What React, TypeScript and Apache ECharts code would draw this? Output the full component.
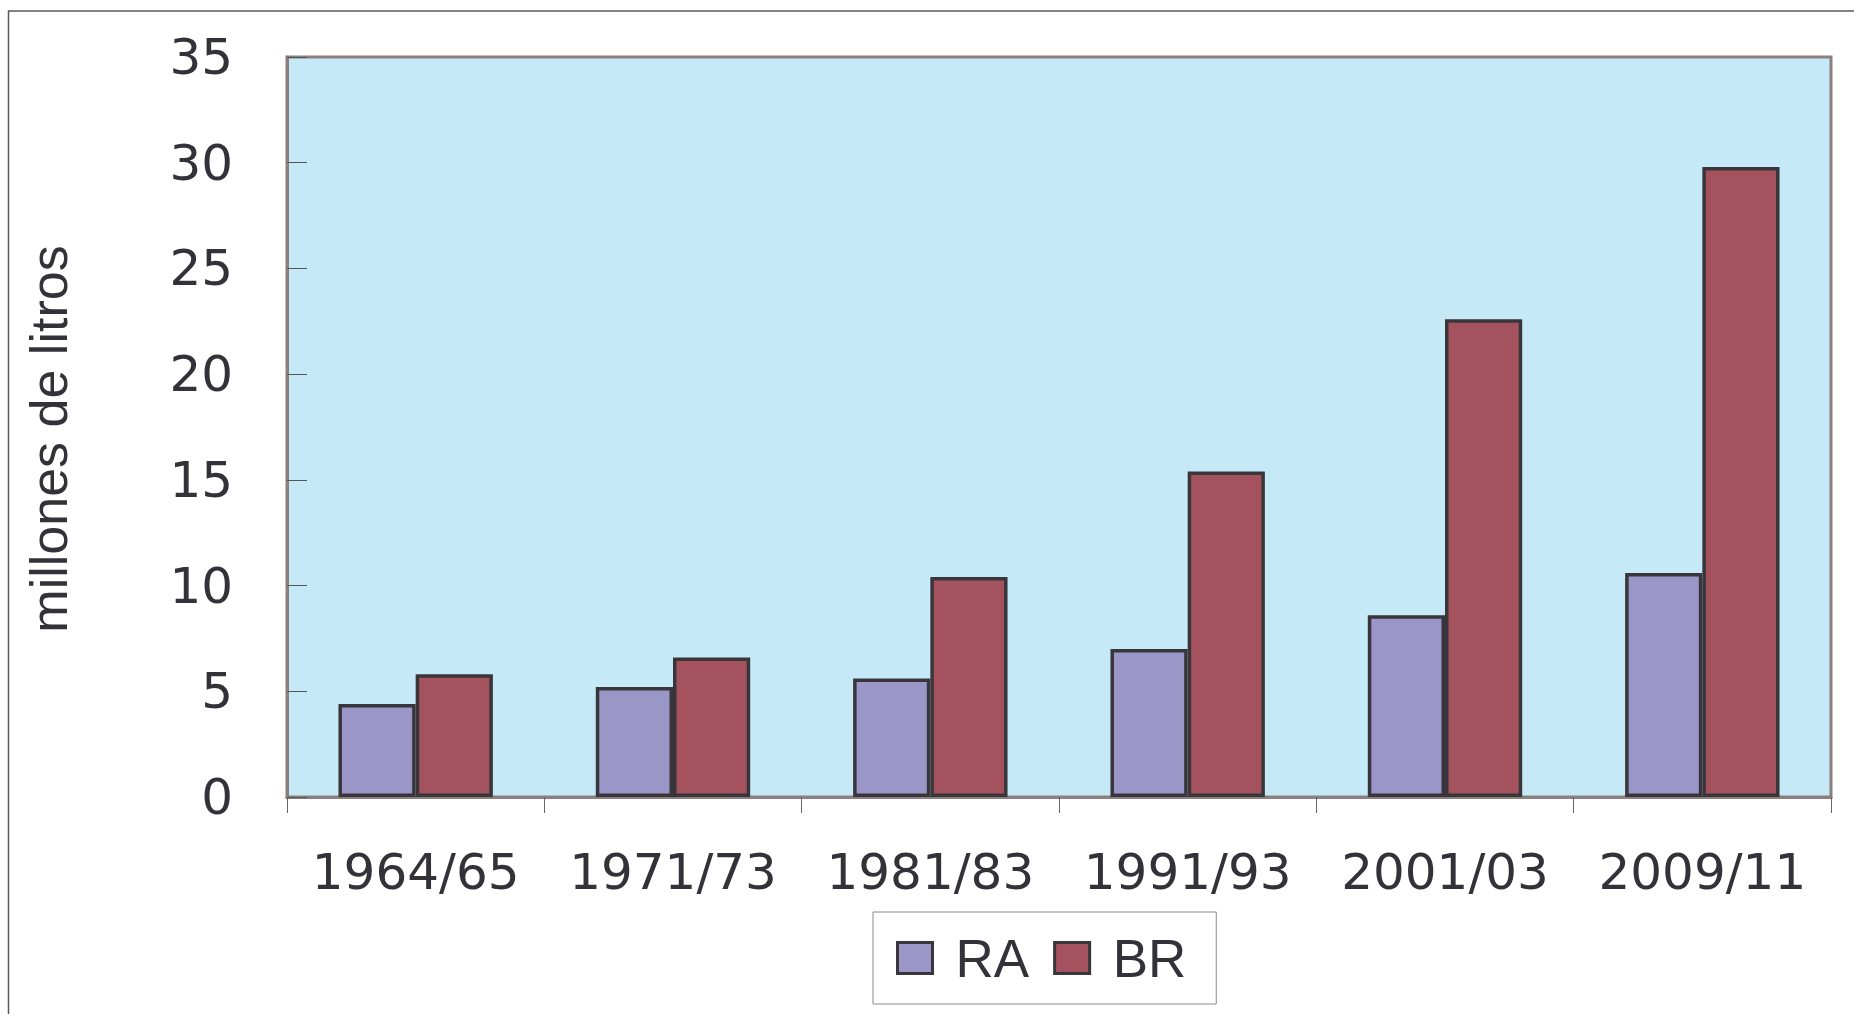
import React, { useEffect, useRef } from "react";
import * as echarts from "echarts";

const categories = ["1964/65", "1971/73", "1981/83", "1991/93", "2001/03", "2009/11"];
const raValues = [4.4, 5.2, 5.6, 7.0, 8.6, 10.6];
const brValues = [5.8, 6.6, 10.4, 15.4, 22.6, 29.8];
const seriesNames = ["RA", "BR"];
const yAxisTitle = "millones de litros";

const FONT = "'Liberation Sans', Arial, Helvetica, sans-serif";
const NUMFONT = "'DejaVu Sans', 'Liberation Sans', Arial, sans-serif";
const TEXT = "#333238";

export default function App() {
  const ref = useRef<HTMLDivElement>(null);
  useEffect(() => {
    if (!ref.current) return;
    const chart = echarts.init(ref.current, null, { renderer: "svg" });
    chart.setOption({
      animation: false,
      backgroundColor: "#ffffff",
      textStyle: { fontFamily: FONT, color: TEXT },
      graphic: [
        {
          type: "rect",
          shape: { x: 8.5, y: 11, width: 2400, height: 2400 },
          style: { fill: "none", stroke: "#5a5a5a", lineWidth: 1.5 },
          silent: true,
          z: 100,
        },
      ],
      grid: {
        left: 287,
        top: 57,
        right: 23,
        bottom: 217,
        show: true,
        containLabel: false,
        outerBoundsMode: "none",
        backgroundColor: "#c6e9f8",
        borderColor: "#8c807f",
        borderWidth: 3,
      },
      legend: {
        data: seriesNames,
        left: 873,
        top: 912,
        orient: "horizontal",
        padding: [16, 30, 16, 23],
        itemWidth: 35,
        itemHeight: 31,
        itemGap: 24,
        borderColor: "#8a8a8a",
        borderWidth: 1,
        icon: "rect",
        itemStyle: { borderColor: "#38363b", borderWidth: 3 },
        textStyle: {
          fontSize: 53,
          color: TEXT,
          fontFamily: FONT,
          lineHeight: 60,
          padding: [0, 0, 0, 18],
        },
      },
      xAxis: {
        type: "category",
        data: categories,
        axisLine: { show: true, lineStyle: { color: "#8c807f", width: 3 } },
        axisTick: { show: true, interval: 0, length: 16, lineStyle: { color: "#666666", width: 1 } },
        axisLabel: { interval: 0, fontSize: 50, color: TEXT, fontFamily: NUMFONT, margin: 50 },
        splitLine: { show: false },
      },
      yAxis: {
        type: "value",
        min: 0,
        max: 35,
        interval: 5,
        name: yAxisTitle,
        nameLocation: "middle",
        nameRotate: 90,
        nameGap: 212,
        nameTextStyle: { fontSize: 52, color: TEXT, fontFamily: FONT, padding: [0, 24, 0, 0] },
        axisLine: { show: true, lineStyle: { color: "#8c807f", width: 3 } },
        axisTick: { show: true, inside: true, length: 20, lineStyle: { color: "#555555", width: 1 } },
        axisLabel: { fontSize: 50, color: TEXT, fontFamily: NUMFONT, margin: 54, padding: [0, 0, 10, 0] },
        splitLine: { show: false },
      },
      series: [
        {
          name: seriesNames[0],
          type: "bar",
          data: raValues,
          barGap: "0%",
          barCategoryGap: "40%",
          itemStyle: { color: "#9b96c8", borderColor: "#38363b", borderWidth: 3.5 },
        },
        {
          name: seriesNames[1],
          type: "bar",
          data: brValues,
          barGap: "0%",
          barCategoryGap: "40%",
          itemStyle: { color: "#a5525f", borderColor: "#38363b", borderWidth: 3.5 },
        },
      ],
    });
    return () => chart.dispose();
  }, []);
  return (
    <div
      ref={ref}
      style={{ position: "fixed", left: 0, top: 0, width: 1854, height: 1014 }}
    />
  );
}
